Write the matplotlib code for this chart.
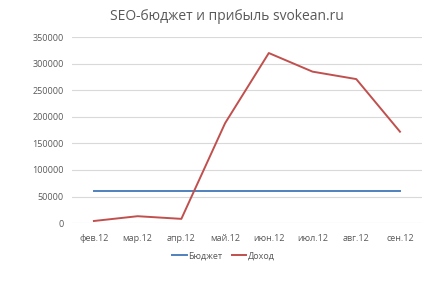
import matplotlib
matplotlib.use("Agg")
import matplotlib.pyplot as plt

months = ["фев.12", "мар.12", "апр.12", "май.12", "июн.12", "июл.12", "авг.12", "сен.12"]
budget = [60000, 60000, 60000, 60000, 60000, 60000, 60000, 60000]
income = [4000, 13000, 8000, 188000, 320000, 285000, 271000, 172000]
yticks = [0, 50000, 100000, 150000, 200000, 250000, 300000, 350000]

plt.rcParams['font.family'] = ['Open Sans', 'DejaVu Sans']
fig = plt.figure(figsize=(4.34, 2.81), dpi=100)
ax = fig.add_axes([0.166, 0.206, 0.806, 0.662])
x = list(range(len(months)))
ax.plot(x, budget, color="#4F81BD", lw=1.4, label="Бюджет")
ax.plot(x, income, color="#C0504D", lw=1.4, label="Доход")
ax.set_xlim(-0.5, len(months) - 0.5)
ax.set_ylim(0, 350000)
ax.set_yticks(yticks)
ax.set_yticklabels([str(v) for v in yticks])
ax.set_xticks(x)
ax.set_xticklabels(months)
ax.grid(axis="y", color="#D9D9D9", lw=0.8)
ax.set_axisbelow(True)
for s in ax.spines.values():
    s.set_visible(False)
ax.tick_params(length=0, labelsize=6.5, colors="#595959", pad=8)
ax.tick_params(axis="y", pad=6)
fig.text(0.523, 0.94, "SEO-бюджет и прибыль svokean.ru", ha="center", va="center",
         fontsize=10, color="#595959")
fig.legend(loc="center", bbox_to_anchor=(0.515, 0.09), ncol=2, frameon=False,
           fontsize=6.5, labelcolor="#595959", handlelength=1.6, handletextpad=0.2,
           columnspacing=1.0)
fig.savefig("out.png", dpi=100)
